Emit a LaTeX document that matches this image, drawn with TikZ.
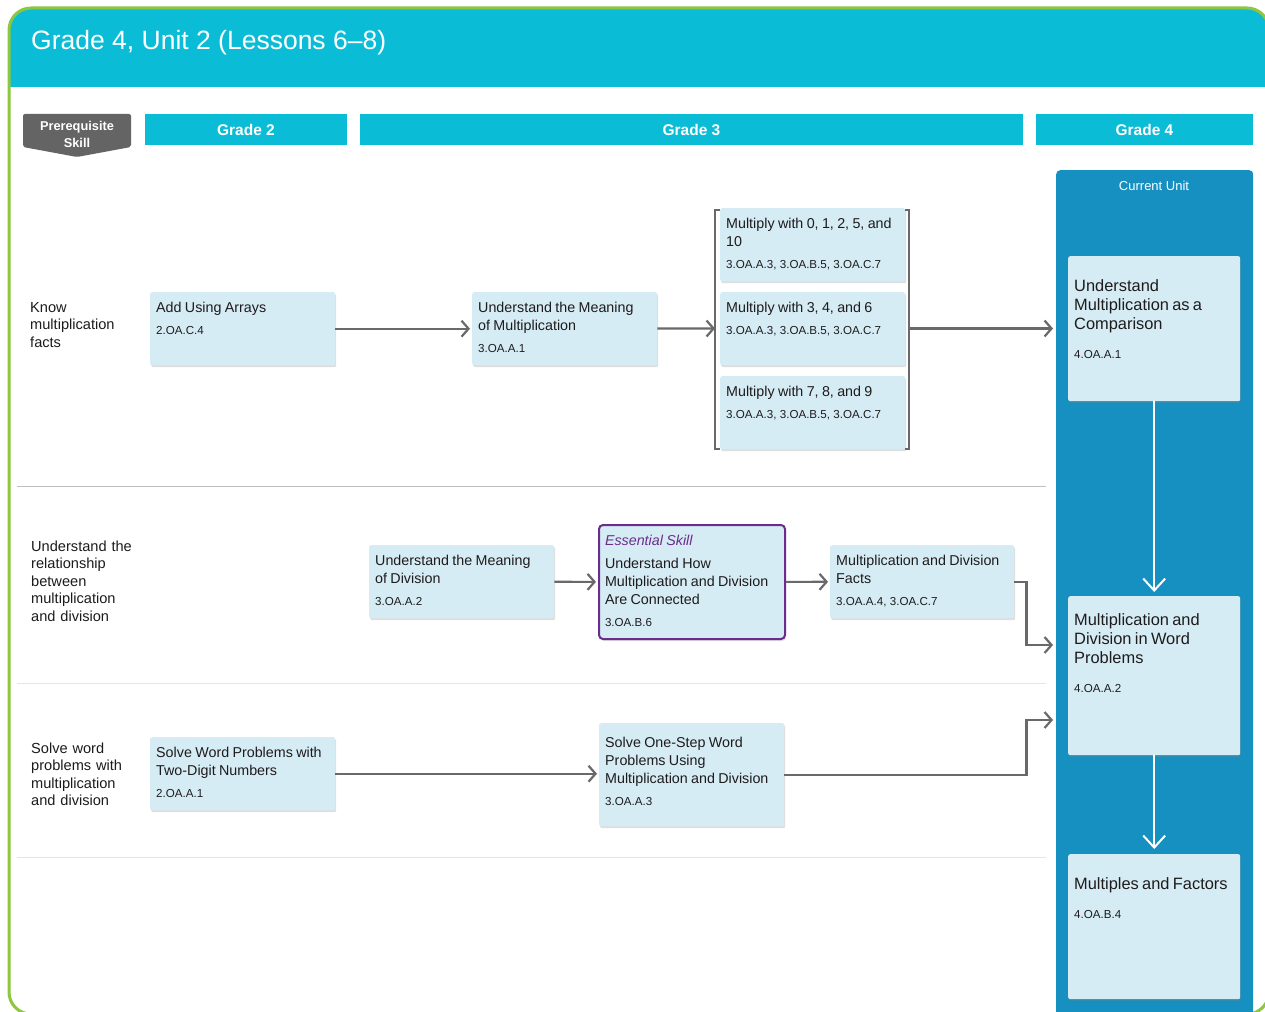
\documentclass[tikz,border=0pt]{standalone}
\usepackage{fontspec}
\setmainfont{Liberation Sans}
\usetikzlibrary{arrows.meta,shadows}
\definecolor{hdrcyan}{RGB}{11,188,214}
\definecolor{framegreen}{RGB}{141,198,63}
\definecolor{unitblue}{RGB}{21,144,193}
\definecolor{cardblue}{RGB}{214,236,245}
\definecolor{arrowgray}{RGB}{105,105,107}
\definecolor{badgegray}{RGB}{100,100,100}
\definecolor{essentialpurple}{RGB}{107,45,139}
\definecolor{inkdark}{RGB}{30,27,28}
\newcommand{\titlefont}{\fontsize{14.3}{18}\selectfont}
\newcommand{\codefont}{\fontsize{11.6}{14}\selectfont}
\newcommand{\unitfont}{\fontsize{16.4}{19}\selectfont}
\newcommand{\rowfont}{\fontsize{14.6}{17.5}\selectfont}
% card text: [top skip], height, title, code
\newcommand{\cardbody}[4][0pt]{\vbox to #2{\vskip #1\titlefont\strut #3\par\vskip 8pt{\codefont #4\par}\vfil}}
% current unit card text: top skip, height, title, code
\newcommand{\unitbody}[4]{\vbox to #2{\vskip #1\unitfont\strut #3\par\vskip 15pt{\codefont #4\par}\vfil}}
\tikzset{
  card/.style={anchor=north west, fill=cardblue, rounded corners=2pt, inner xsep=6pt, inner ysep=8pt,
    align=left, text=inkdark, drop shadow={shadow xshift=1pt, shadow yshift=-2pt, opacity=.25}},
  stdcard/.style={card, text width=173pt, minimum width=185pt, minimum height=73pt},
  unitcard/.style={card, text width=160pt, minimum width=172pt},
  gradehead/.style={fill=hdrcyan, text=white, font=\fontsize{15.5}{18}\selectfont\bfseries,
    minimum height=31pt, inner sep=0pt},
  rowlabel/.style={anchor=base west, align=left, text width=115pt, inner sep=0pt, text=inkdark, font=\rowfont},
  flow/.style={draw=arrowgray, line width=2.2pt, -{Straight Barb[length=7pt, width=16pt]}},
  unitflow/.style={draw=white, line width=2pt, -{Straight Barb[length=12pt, width=22pt]}},
  bracket/.style={draw=arrowgray, line width=2.2pt},
}
\begin{document}
\begin{tikzpicture}[x=1pt,y=-1pt]
  \useasboundingbox (0,0) rectangle (1265,1011);
  \fill[white] (0,0) rectangle (1265,1011);
  % frame and header band
  \begin{scope}
    \clip[rounded corners=22pt] (9,8) rectangle (1269,1014);
    \fill[hdrcyan] (9,8) rectangle (1269,87);
  \end{scope}
  \draw[framegreen, line width=3pt, rounded corners=22pt] (9,8) rectangle (1269,1014);
  \node[anchor=base west, text=white, font=\fontsize{26.5}{30}\selectfont, inner sep=0pt] (title) at (31,50)
    {Grade 4, Unit 2 (Lessons 6–8)};
  % column headers
  \fill[badgegray, rounded corners=2pt] (23,114) -- (131,114) -- (131,147) -- (77,157) -- (23,147) -- cycle;
  \node[text=white, font=\fontsize{12.8}{17}\selectfont\bfseries, align=center, inner sep=0pt] (prereq) at (77,134)
    {Prerequisite\\Skill};
  \node[gradehead, minimum width=202pt] (grade2) at (246,129.5) {Grade 2};
  \node[gradehead, minimum width=663pt] (grade3) at (691.5,129.5) {Grade 3};
  \node[gradehead, minimum width=217pt] (grade4) at (1144.5,129.5) {Grade 4};
  % row separators
  \draw[black!25, line width=1pt] (17,486) -- (1046,486);
  \draw[black!10, line width=1pt] (17,683) -- (1046,683);
  \draw[black!10, line width=1pt] (17,857) -- (1046,857);
  % current unit column
  \node[anchor=north west, fill=unitblue, rounded corners=4pt, minimum width=197pt, minimum height=860pt,
    inner sep=0pt] (unit) at (1056,170) {};
  \node[text=white, font=\fontsize{13}{15}\selectfont, inner sep=0pt] (unitlbl) at (1154,186) {Current Unit};
  % row labels
  \node[rowlabel] (knowlbl) at (30,312) {Know\\multiplication\\facts};
  \node[rowlabel] (relatelbl) at (31,551) {Understand the\\relationship\\between\\multiplication\\and division};
  \node[rowlabel] (solvelbl) at (31,753) {Solve word\\problems with\\multiplication\\and division};
  % row 1
  \node[stdcard] (arrays) at (150,292) {\cardbody{57pt}{Add Using Arrays}{2.OA.C.4}};
  \node[stdcard] (meanmult) at (472,292) {\cardbody{57pt}{Understand the Meaning\\of Multiplication}{3.OA.A.1}};
  \node[stdcard] (mult0) at (720,208) {\cardbody{57pt}{Multiply with 0, 1, 2, 5, and\\10}{3.OA.A.3, 3.OA.B.5, 3.OA.C.7}};
  \node[stdcard] (mult3) at (720,292) {\cardbody{57pt}{Multiply with 3, 4, and 6}{3.OA.A.3, 3.OA.B.5, 3.OA.C.7}};
  \node[stdcard] (mult7) at (720,376) {\cardbody{57pt}{Multiply with 7, 8, and 9}{3.OA.A.3, 3.OA.B.5, 3.OA.C.7}};
  \draw[bracket] (720,210) -- (715,210) -- (715,449) -- (720,449);
  \draw[bracket] (905,210) -- (909,210) -- (909,449) -- (905,449);
  \coordinate (brL) at (715,328.5);
  \coordinate (brR) at (909,328.5);
  % row 2
  \node[stdcard] (meandiv) at (369,545) {\cardbody{57pt}{Understand the Meaning\\of Division}{3.OA.A.2}};
  \node[card, text width=174pt, minimum width=186pt, minimum height=114pt, draw=essentialpurple,
    line width=2pt, rounded corners=4pt] (connect) at (598,524)
    {\vbox to 98pt{\titlefont\strut{\color{essentialpurple}\itshape Essential Skill}\par\vskip 5pt
      Understand How\\Multiplication and Division\\Are Connected\par\vskip 8pt{\codefont 3.OA.B.6\par}\vfil}};
  \node[stdcard, text width=172pt, minimum width=184pt] (facts) at (830,545)
    {\cardbody{57pt}{Multiplication and Division\\Facts}{3.OA.A.4, 3.OA.C.7}};
  % row 3
  \node[stdcard] (twodigit) at (150,737) {\cardbody{57pt}{Solve Word Problems with\\Two-Digit Numbers}{2.OA.A.1}};
  \node[stdcard, minimum height=103pt] (onestep) at (599,723)
    {\cardbody[4pt]{87pt}{Solve One-Step Word\\Problems Using\\Multiplication and Division}{3.OA.A.3}};
  % current unit cards
  \node[unitcard, minimum height=145pt] (comparison) at (1068,256)
    {\unitbody{14pt}{129pt}{Understand\\Multiplication as a\\Comparison}{4.OA.A.1}};
  \node[unitcard, minimum height=159pt] (wordprob) at (1068,596)
    {\unitbody{8pt}{143pt}{Multiplication and\\Division in Word\\Problems}{4.OA.A.2}};
  \node[unitcard, minimum height=145pt] (factors) at (1068,854)
    {\unitbody{14pt}{129pt}{Multiples and Factors}{4.OA.B.4}};
  % connectors
  \coordinate (wpin) at (1053,645);
  \coordinate (wpin2) at (1053,720);
  \draw[flow, shorten >=2pt] (arrays) -- (meanmult);
  \draw[flow] (meanmult) -- (brL);
  \draw[flow, shorten >=3pt] (brR) -- (brR -| unit.west);
  \draw[flow, shorten >=2pt] (meandiv) -- (connect);
  \draw[flow, shorten >=2pt] (connect) -- (facts);
  \draw[flow] (facts.east) -- ++(12,0) |- (wpin);
  \draw[flow, shorten >=2pt] (twodigit.east) -- (twodigit.east -| onestep.west);
  \draw[flow] (onestep.east) -- ++(242,0) |- (wpin2);
  \draw[unitflow, shorten >=4pt] (comparison) -- (wordprob);
  \draw[unitflow, shorten >=5pt] (wordprob) -- (factors);
\end{tikzpicture}
\end{document}
